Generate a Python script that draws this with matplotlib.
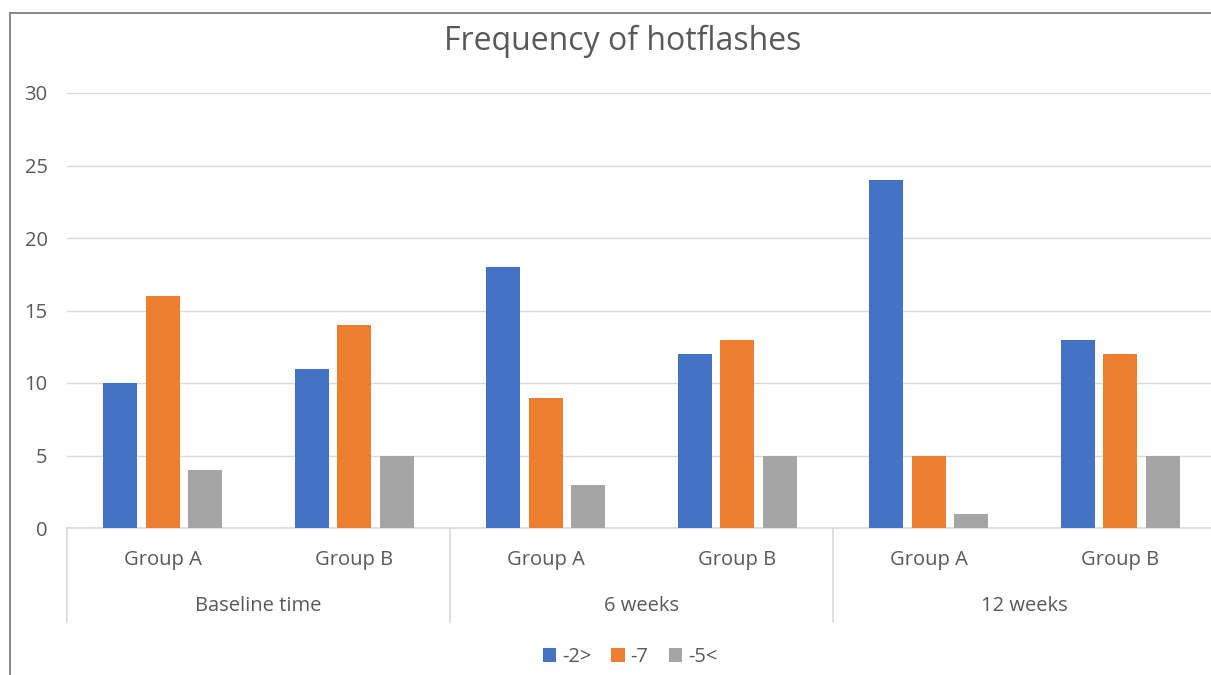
import matplotlib.pyplot as plt
from matplotlib.lines import Line2D
from matplotlib.patches import Patch
import matplotlib.transforms as mtransforms

plt.rcParams['font.family'] = ['Open Sans', 'DejaVu Sans']

# data
periods = ['Baseline time', '6 weeks', '12 weeks']
groups = ['Group A', 'Group B']
series_names = ['-2>', '-7', '-5<']
s_2 = [10, 11, 18, 12, 24, 13]
s_7 = [16, 14, 9, 13, 5, 12]
s_5 = [4, 5, 3, 5, 1, 5]
colors = ['#4472C4', '#ED7D31', '#A5A5A5']
txt = '#595959'
grid = '#D9D9D9'

W, H = 1211, 675
fig = plt.figure(figsize=(W/100, H/100), dpi=100)
ax = fig.add_axes([67/W, (H-528)/H, 1149/W, 435/H])

n = len(s_2)
x = list(range(n))
bw = 0.178
step = 0.222
for k, vals in enumerate([s_2, s_7, s_5]):
    ax.bar([i + (k-1)*step for i in x], vals, width=bw, color=colors[k],
           label=series_names[k], zorder=3)

ax.set_xlim(-0.5, n-0.5)
ax.set_ylim(0, 30)
ax.set_yticks(range(0, 31, 5))
ax.tick_params(axis='y', length=0, pad=14, labelsize=14.5, labelcolor=txt)
ax.set_xticks([])
ax.grid(axis='y', color=grid, linewidth=1, zorder=0)
for s in ['top', 'right', 'left']:
    ax.spines[s].set_visible(False)
ax.spines['bottom'].set_color(grid)
ax.spines['bottom'].set_linewidth(1.2)

# two-level category axis
tr = mtransforms.blended_transform_factory(ax.transData, ax.transAxes)
y_grp = -32/435
y_per = -78/435
y_sep = -94/435
for i in x:
    ax.text(i, y_grp, groups[i % 2], transform=tr, ha='center', va='center',
            fontsize=14.5, color=txt)
for j, p in enumerate(periods):
    ax.text(2*j + 0.5, y_per, p, transform=tr, ha='center', va='center',
            fontsize=14.5, color=txt)
for j in range(len(periods) + 1):
    ax.add_line(Line2D([2*j - 0.5]*2, [0, y_sep], transform=tr, color=grid,
                       linewidth=1.2, clip_on=False))

fig.text(623/W, 1 - 41/H, 'Frequency of hotflashes', ha='center', va='center',
         fontsize=23, color=txt)

handles = [Patch(facecolor=c, label=l) for c, l in zip(colors, series_names)]
fig.legend(handles=handles, loc='center', bbox_to_anchor=(630/W, 1 - 657/H),
           ncol=3, frameon=False, fontsize=14.5, labelcolor=txt,
           handlelength=0.65, handleheight=0.65, handletextpad=0.3,
           columnspacing=1.0)

# outer chart border (cropped on the right and bottom)
fig.add_artist(Line2D([10/W, 10/W], [0, 1 - 13/H], transform=fig.transFigure,
                      color='#7F7F7F', linewidth=1.3))
fig.add_artist(Line2D([10/W, 1], [1 - 13/H, 1 - 13/H], transform=fig.transFigure,
                      color='#7F7F7F', linewidth=1.3))

fig.savefig('out.png', dpi=100)
